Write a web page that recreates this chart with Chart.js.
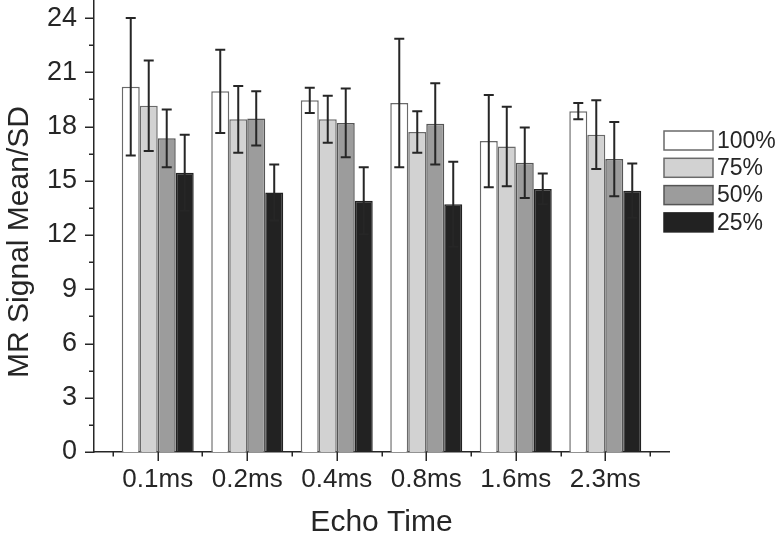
<!DOCTYPE html>
<html>
<head>
<meta charset="utf-8">
<script src="https://cdn.jsdelivr.net/npm/chart.js@4/dist/chart.umd.min.js"></script>
<style>
  html, body { margin: 0; padding: 0; background: #ffffff; }
  #wrap { width: 776px; height: 536px; }
</style>
</head>
<body>
<div id="wrap"><canvas id="c" width="776" height="536"></canvas></div>
<script>
// ---- data ----
const categories = ['0.1ms', '0.2ms', '0.4ms', '0.8ms', '1.6ms', '2.3ms'];
const seriesLabels = ['100%', '75%', '50%', '25%'];
const mean100 = [20.2, 19.95, 19.45, 19.3, 17.2, 18.85];
const sd100   = [3.8, 2.3, 0.7, 3.55, 2.55, 0.45];
const mean75  = [19.15, 18.4, 18.4, 17.7, 16.9, 17.55];
const sd75    = [2.5, 1.85, 1.3, 1.15, 2.2, 1.9];
const mean50  = [17.35, 18.45, 18.2, 18.15, 16.0, 16.2];
const sd50    = [1.6, 1.5, 1.9, 2.25, 1.95, 2.05];
const mean25  = [15.45, 14.35, 13.9, 13.7, 14.55, 14.45];
const sd25    = [2.1, 1.55, 1.85, 2.35, 0.85, 1.5];
const yTickValues = [0, 3, 6, 9, 12, 15, 18, 21, 24];

const FONT = "'Liberation Sans', Arial, Helvetica, sans-serif";
const INK = '#262626';

const catPos = categories.map((_, i) => i + 1);
const toPoints = (arr) => arr.map((v, i) => ({ x: catPos[i], y: v }));

const fills = ['#ffffff', '#d2d2d2', '#9c9c9c', '#222222'];
const edges = ['#6a6a6a', '#6a6a6a', '#555555', '#222222'];
const means = [mean100, mean75, mean50, mean25];
const sds = [sd100, sd75, sd50, sd25];

const datasets = seriesLabels.map((lab, k) => ({
  label: lab,
  data: toPoints(means[k]),
  errors: sds[k],
  backgroundColor: fills[k],
  borderColor: edges[k],
  borderWidth: 1.5,
  borderSkipped: 'start',
  categoryPercentage: 0.804,
  barPercentage: 1.0
}));

// error bars drawn through the y scale
const errorBars = {
  id: 'errorBars',
  afterDatasetsDraw(chart) {
    const { ctx } = chart;
    const ys = chart.scales.y;
    ctx.save();
    ctx.strokeStyle = INK;
    ctx.lineWidth = 2;
    chart.data.datasets.forEach((ds, di) => {
      const meta = chart.getDatasetMeta(di);
      meta.data.forEach((bar, i) => {
        const v = ds.data[i].y, e = ds.errors[i];
        const yt = ys.getPixelForValue(v + e);
        const yb = ys.getPixelForValue(v - e);
        const x = bar.x, cap = 5;
        ctx.beginPath();
        ctx.moveTo(x, yt); ctx.lineTo(x, yb);
        ctx.moveTo(x - cap, yt); ctx.lineTo(x + cap, yt);
        ctx.moveTo(x - cap, yb); ctx.lineTo(x + cap, yb);
        ctx.stroke();
      });
    });
    ctx.restore();
  }
};

// major / minor tick marks, y title, legend
const decorations = {
  id: 'decorations',
  afterDraw(chart) {
    const { ctx, chartArea } = chart;
    const xs = chart.scales.x, ys = chart.scales.y;
    ctx.save();
    ctx.strokeStyle = INK;
    ctx.lineWidth = 1.5;
    ctx.beginPath();
    // y ticks
    for (let v = 0; v <= ys.max + 1e-9; v += 1.5) {
      const py = Math.round(ys.getPixelForValue(v)) + 0.25;
      const major = Math.abs(v / 3 - Math.round(v / 3)) < 1e-6;
      ctx.moveTo(chartArea.left, py);
      ctx.lineTo(chartArea.left - (major ? 9 : 5), py);
    }
    // x ticks
    for (let v = 0.5; v <= xs.max; v += 0.5) {
      const px = Math.round(xs.getPixelForValue(v)) + 0.25;
      const major = Math.abs(v - Math.round(v)) < 1e-6;
      ctx.moveTo(px, chartArea.bottom);
      ctx.lineTo(px, chartArea.bottom + (major ? 9 : 4.5));
    }
    ctx.stroke();

    // y axis title
    ctx.fillStyle = INK;
    ctx.font = '30px ' + FONT;
    ctx.textAlign = 'center';
    ctx.textBaseline = 'middle';
    ctx.translate(20, 242);
    ctx.rotate(-Math.PI / 2);
    ctx.fillText('MR Signal Mean/SD', 0, 0);
    ctx.restore();

    // legend
    ctx.save();
    const lx = 664, ly = 131, bw = 49, bh = 19, step = 27.3;
    ctx.font = '23px ' + FONT;
    ctx.textAlign = 'left';
    ctx.textBaseline = 'middle';
    chart.data.datasets.forEach((ds, k) => {
      const top = ly + k * step;
      ctx.fillStyle = ds.backgroundColor;
      ctx.fillRect(lx, top, bw, bh);
      ctx.strokeStyle = ds.borderColor;
      ctx.lineWidth = 1.5;
      ctx.strokeRect(lx, top, bw, bh);
      ctx.fillStyle = INK;
      ctx.fillText(ds.label, lx + bw + 4, top + bh / 2 + 1);
    });
    ctx.restore();
  }
};

new Chart(document.getElementById('c'), {
  type: 'bar',
  data: { datasets },
  options: {
    responsive: false,
    animation: false,
    layout: { padding: { left: 0, right: 107, top: 0, bottom: 0 } },
    plugins: { legend: { display: false }, tooltip: { enabled: false } },
    scales: {
      x: {
        type: 'linear',
        min: 0.288,
        max: 6.712,
        offset: false,
        grid: { display: false, drawTicks: false, offset: false },
        border: { display: true, color: INK, width: 1.5 },
        afterBuildTicks(scale) { scale.ticks = catPos.map(v => ({ value: v })); },
        afterFit(scale) {
          scale.height = 84;
          scale.paddingLeft = 0; scale.paddingRight = 0;
          scale.paddingTop = 0; scale.paddingBottom = 0;
        },
        ticks: {
          autoSkip: false,
          maxRotation: 0,
          padding: 12,
          color: INK,
          font: { family: FONT, size: 26 },
          callback: (v) => categories[Math.round(v) - 1]
        },
        title: {
          display: true,
          text: 'Echo Time',
          color: INK,
          font: { family: FONT, size: 30, lineHeight: 0.8 },
          padding: { top: 0, bottom: 1 }
        }
      },
      y: {
        min: 0,
        max: 25,
        grid: { display: false, drawTicks: false },
        border: { display: true, color: INK, width: 1.5 },
        afterBuildTicks(scale) { scale.ticks = yTickValues.map(v => ({ value: v })); },
        afterFit(scale) {
          scale.width = 94;
          scale.paddingTop = 0; scale.paddingBottom = 0;
          scale.paddingLeft = 0; scale.paddingRight = 0;
        },
        ticks: {
          padding: 17,
          color: INK,
          font: { family: FONT, size: 27 }
        }
      }
    }
  },
  plugins: [errorBars, decorations]
});
</script>
</body>
</html>
